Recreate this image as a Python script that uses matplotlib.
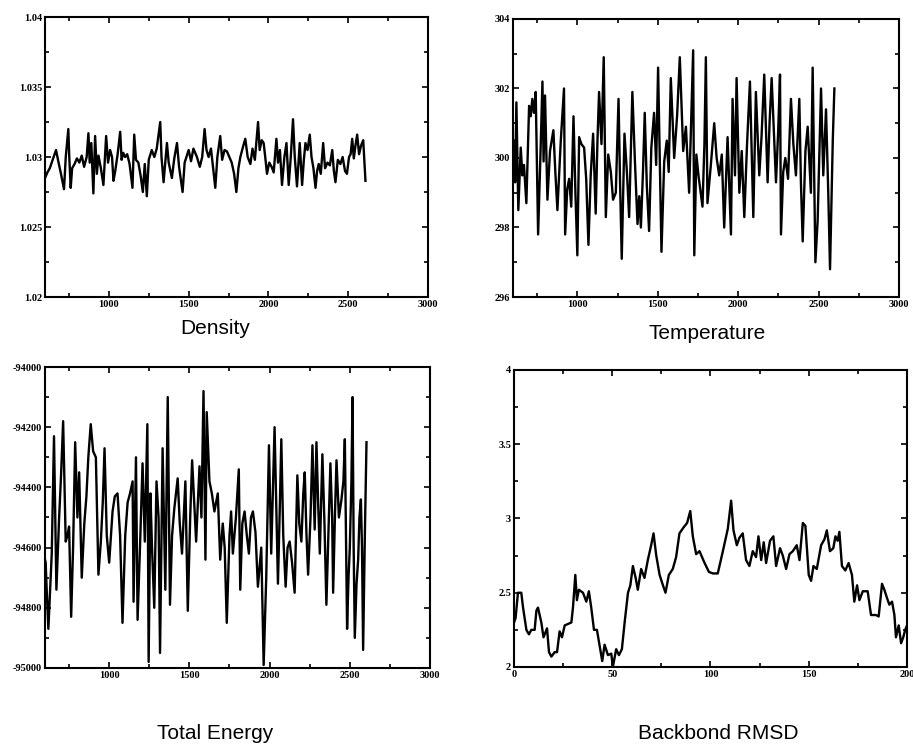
import matplotlib
matplotlib.use('Agg')
import matplotlib.pyplot as plt
from matplotlib.ticker import MultipleLocator, FuncFormatter

plt.rcParams['axes.unicode_minus'] = False

# =============================================================================
# data: (time, value) pairs
# =============================================================================
density = [(600, 1.0285), (615, 1.0289), (630, 1.0292), (645, 1.0297), (660, 1.0302),
           (669, 1.0305), (685, 1.0296), (700, 1.0288), (719, 1.0277), (730, 1.0300),
           (746, 1.0320), (752, 1.0300), (761, 1.0278), (770, 1.0292), (785, 1.0295),
           (800, 1.0299), (815, 1.0296), (830, 1.0301), (845, 1.0293), (861, 1.0300),
           (872, 1.0317), (880, 1.0296), (890, 1.0310), (903, 1.0274), (914, 1.0315),
           (925, 1.0288), (935, 1.0301), (950, 1.0292), (966, 1.0280), (983, 1.0315),
           (995, 1.0296), (1008, 1.0305), (1020, 1.0300), (1029, 1.0283), (1040, 1.0290),
           (1055, 1.0302), (1071, 1.0318), (1080, 1.0298), (1090, 1.0303), (1102, 1.0300),
           (1115, 1.0302), (1130, 1.0295), (1148, 1.0278), (1159, 1.0316), (1170, 1.0298),
           (1185, 1.0296), (1200, 1.0286), (1213, 1.0275), (1225, 1.0295), (1238, 1.0272),
           (1250, 1.0298), (1269, 1.0305), (1285, 1.0300), (1300, 1.0306), (1322, 1.0325),
           (1330, 1.0300), (1343, 1.0282), (1364, 1.0310), (1375, 1.0296), (1395, 1.0285),
           (1410, 1.0299), (1427, 1.0310), (1440, 1.0293), (1462, 1.0275), (1475, 1.0296),
           (1500, 1.0305), (1515, 1.0297), (1530, 1.0306), (1552, 1.0300), (1570, 1.0293),
           (1585, 1.0300), (1600, 1.0320), (1612, 1.0305), (1625, 1.0300), (1640, 1.0306),
           (1667, 1.0278), (1680, 1.0300), (1698, 1.0315), (1710, 1.0298), (1725, 1.0305),
           (1740, 1.0304), (1755, 1.0300), (1770, 1.0296), (1785, 1.0288), (1799, 1.0275),
           (1812, 1.0292), (1824, 1.0300), (1840, 1.0307), (1855, 1.0313), (1870, 1.0300),
           (1887, 1.0295), (1900, 1.0306), (1915, 1.0298), (1935, 1.0325), (1945, 1.0305),
           (1958, 1.0312), (1970, 1.0310), (1980, 1.0300), (1991, 1.0288), (2005, 1.0296),
           (2020, 1.0293), (2033, 1.0289), (2050, 1.0313), (2060, 1.0296), (2072, 1.0305),
           (2085, 1.0280), (2100, 1.0300), (2113, 1.0310), (2127, 1.0280), (2140, 1.0300),
           (2154, 1.0327), (2165, 1.0300), (2179, 1.0279), (2196, 1.0310), (2211, 1.0280),
           (2222, 1.0298), (2232, 1.0310), (2245, 1.0305), (2259, 1.0316), (2270, 1.0300),
           (2282, 1.0292), (2295, 1.0278), (2305, 1.0290), (2315, 1.0295), (2328, 1.0288),
           (2343, 1.0310), (2355, 1.0292), (2370, 1.0296), (2385, 1.0294), (2400, 1.0305),
           (2410, 1.0290), (2420, 1.0282), (2435, 1.0298), (2451, 1.0295), (2465, 1.0300),
           (2480, 1.0290), (2492, 1.0288), (2505, 1.0300), (2515, 1.0302), (2525, 1.0313),
           (2535, 1.0299), (2545, 1.0308), (2556, 1.0316), (2568, 1.0302), (2580, 1.0308),
           (2594, 1.0312), (2608, 1.0283)]

temperature = [(600, 299.6), (606, 300.5), (613, 299.3), (621, 301.6), (633, 298.5),
               (648, 300.3), (658, 299.5), (668, 299.8), (683, 298.7), (700, 301.5),
               (710, 301.2), (720, 301.7), (730, 301.3), (741, 301.9), (756, 297.8),
               (770, 300.0), (783, 302.2), (790, 299.9), (799, 301.8), (814, 298.8),
               (830, 300.2), (851, 300.8), (863, 299.6), (876, 298.5), (897, 300.5),
               (917, 302.0), (924, 297.8), (937, 299.1), (949, 299.4), (962, 298.6),
               (976, 301.2), (988, 299.0), (1000, 297.2), (1011, 300.6), (1025, 300.4),
               (1042, 300.3), (1055, 299.4), (1069, 297.5), (1083, 299.5), (1098, 300.7),
               (1114, 298.4), (1125, 300.5), (1135, 301.9), (1150, 300.4), (1164, 302.9),
               (1177, 298.3), (1192, 300.1), (1208, 299.6), (1222, 298.8), (1239, 299.0),
               (1256, 301.7), (1266, 299.2), (1276, 297.1), (1293, 300.7), (1308, 299.6),
               (1322, 298.3), (1342, 301.9), (1358, 299.9), (1374, 298.1), (1385, 298.9),
               (1395, 298.0), (1408, 299.6), (1419, 301.3), (1432, 299.2), (1446, 297.9),
               (1460, 300.3), (1477, 301.3), (1490, 299.8), (1502, 302.6), (1523, 297.3),
               (1540, 299.9), (1556, 300.5), (1568, 299.6), (1581, 302.3), (1602, 300.0),
               (1620, 301.2), (1637, 302.9), (1658, 300.2), (1675, 300.9), (1695, 299.0),
               (1720, 303.1), (1727, 297.2), (1740, 300.1), (1753, 299.5), (1778, 298.6),
               (1790, 300.4), (1799, 302.9), (1809, 298.7), (1830, 299.8), (1851, 301.0),
               (1866, 300.0), (1882, 299.5), (1898, 300.1), (1913, 298.0), (1934, 300.6),
               (1955, 297.8), (1965, 301.7), (1980, 299.5), (1990, 302.3), (2007, 299.0),
               (2022, 300.2), (2038, 298.3), (2055, 300.4), (2073, 302.2), (2094, 298.3),
               (2110, 301.9), (2131, 299.5), (2145, 300.6), (2162, 302.4), (2183, 299.3),
               (2195, 301.0), (2208, 302.3), (2235, 299.3), (2248, 300.7), (2260, 302.4),
               (2266, 297.8), (2280, 299.6), (2293, 300.0), (2310, 299.4), (2328, 301.7),
               (2343, 300.4), (2359, 299.5), (2380, 301.7), (2390, 299.3), (2401, 297.6),
               (2418, 300.2), (2432, 300.9), (2452, 299.0), (2463, 302.6), (2480, 297.0),
               (2494, 298.2), (2515, 302.0), (2529, 299.5), (2546, 301.4), (2560, 299.0),
               (2571, 296.8), (2588, 300.5), (2598, 302.0)]

total_energy = [(600, -94640), (604, -94650), (612, -94760), (621, -94870), (632, -94740),
                (642, -94620), (656, -94230), (663, -94460), (671, -94740), (688, -94500),
                (700, -94360), (713, -94180), (729, -94580), (740, -94560), (750, -94530),
                (763, -94830), (775, -94600), (788, -94250), (802, -94500), (813, -94350),
                (829, -94700), (845, -94520), (858, -94430), (870, -94300), (885, -94190),
                (900, -94280), (917, -94300), (933, -94690), (948, -94580), (960, -94450),
                (971, -94270), (985, -94560), (1000, -94650), (1021, -94480), (1035, -94430),
                (1052, -94420), (1068, -94560), (1083, -94850), (1100, -94560), (1115, -94450),
                (1130, -94420), (1146, -94380), (1152, -94780), (1167, -94300), (1177, -94840),
                (1192, -94600), (1208, -94320), (1222, -94580), (1238, -94190), (1246, -94980),
                (1257, -94420), (1267, -94600), (1281, -94800), (1295, -94380), (1308, -94500),
                (1317, -94950), (1333, -94270), (1350, -94740), (1365, -94100), (1379, -94790),
                (1392, -94560), (1406, -94470), (1427, -94370), (1440, -94520), (1454, -94620),
                (1475, -94380), (1490, -94810), (1505, -94500), (1517, -94310), (1530, -94450),
                (1542, -94580), (1563, -94330), (1575, -94500), (1588, -94080), (1600, -94640),
                (1608, -94150), (1625, -94380), (1640, -94420), (1656, -94480), (1677, -94420),
                (1692, -94640), (1708, -94520), (1720, -94600), (1733, -94850), (1750, -94560),
                (1760, -94480), (1771, -94620), (1790, -94500), (1808, -94340), (1817, -94740),
                (1830, -94520), (1844, -94480), (1858, -94560), (1871, -94620), (1884, -94500),
                (1896, -94480), (1912, -94550), (1927, -94730), (1948, -94600), (1963, -94990),
                (1979, -94700), (1996, -94260), (2010, -94620), (2031, -94200), (2052, -94720),
                (2063, -94480), (2073, -94240), (2085, -94560), (2100, -94730), (2112, -94600),
                (2125, -94580), (2140, -94650), (2156, -94750), (2173, -94360), (2185, -94520),
                (2198, -94580), (2210, -94420), (2219, -94350), (2230, -94560), (2240, -94690),
                (2255, -94500), (2267, -94260), (2281, -94540), (2292, -94250), (2303, -94460),
                (2313, -94620), (2329, -94290), (2342, -94520), (2354, -94790), (2367, -94550),
                (2379, -94320), (2390, -94500), (2396, -94750), (2408, -94480), (2417, -94310),
                (2432, -94500), (2448, -94440), (2460, -94380), (2469, -94240), (2476, -94560),
                (2483, -94870), (2492, -94700), (2500, -94600), (2510, -94380), (2517, -94100),
                (2524, -94600), (2531, -94900), (2542, -94720), (2552, -94640), (2560, -94500),
                (2569, -94440), (2576, -94600), (2583, -94940), (2594, -94550), (2604, -94250)]

rmsd = [(0, 2.30), (0.8, 2.33), (2, 2.50), (3.7, 2.50), (4.6, 2.40), (6.3, 2.25),
        (7.6, 2.22), (8.8, 2.25), (10.5, 2.25), (11.4, 2.38), (12.2, 2.40), (13.9, 2.30),
        (15, 2.20), (16.8, 2.26), (17.8, 2.10), (19, 2.07), (20.7, 2.10), (21.9, 2.10),
        (23.2, 2.24), (24.4, 2.20), (25.8, 2.28), (27.5, 2.29), (29.2, 2.30), (30, 2.40),
        (31.2, 2.62), (32, 2.45), (33, 2.52), (35.1, 2.50), (36.8, 2.44), (38.1, 2.51),
        (39.3, 2.40), (40.7, 2.25), (42.2, 2.25), (43.6, 2.14), (44.9, 2.04), (46.1, 2.15),
        (47.8, 2.08), (49.5, 2.09), (50.3, 2.00), (52, 2.12), (53.4, 2.08), (54.9, 2.12),
        (56.3, 2.30), (58, 2.50), (59.2, 2.55), (60.5, 2.68), (61.9, 2.60), (63, 2.52),
        (64.7, 2.66), (66.4, 2.60), (68.1, 2.72), (69.8, 2.82), (71, 2.90), (72.4, 2.75),
        (74.1, 2.62), (75.8, 2.55), (77.1, 2.50), (78.8, 2.62), (80.8, 2.66), (82.5, 2.74),
        (84.2, 2.90), (86.3, 2.94), (88.1, 2.97), (89.7, 3.05), (91, 2.88), (92.7, 2.76),
        (94.4, 2.78), (97, 2.70), (99.2, 2.64), (101.2, 2.63), (103.7, 2.63), (106.3, 2.78),
        (108.8, 2.93), (110.5, 3.12), (111.7, 2.92), (113.4, 2.82), (114.7, 2.87), (116.4, 2.90),
        (118.1, 2.72), (119.8, 2.68), (121.5, 2.78), (123.2, 2.74), (124.4, 2.88), (125.8, 2.72),
        (127.1, 2.84), (128.3, 2.70), (130.3, 2.85), (132, 2.88), (133.4, 2.68), (135.4, 2.80),
        (136.8, 2.75), (138.5, 2.66), (140.2, 2.76), (141.9, 2.78), (143.9, 2.82), (145.3, 2.72),
        (147, 2.97), (148.3, 2.95), (150, 2.62), (151.2, 2.58), (152.4, 2.68), (154.1, 2.66),
        (156.3, 2.82), (158, 2.86), (159.2, 2.92), (160.8, 2.78), (162.5, 2.80), (163.6, 2.88),
        (164.7, 2.85), (165.6, 2.91), (166.9, 2.68), (168.6, 2.65), (170.3, 2.70), (172, 2.62),
        (173.2, 2.44), (174.6, 2.55), (175.8, 2.45), (177.5, 2.51), (180, 2.51), (181.7, 2.35),
        (184.2, 2.35), (185.6, 2.34), (187.3, 2.56), (188.5, 2.52), (189.7, 2.47), (191, 2.42),
        (192.4, 2.44), (193.6, 2.35), (194.4, 2.20), (195.8, 2.28), (197, 2.16), (198.1, 2.20),
        (199.1, 2.25), (200, 2.28)]

titles = ['Density', 'Temperature', 'Total Energy', 'Backbond RMSD']


def fmt(v, pos):
    return '%g' % v


def style(ax, xlim, ylim, xmaj, xmin, ymaj, ymin):
    ax.set_xlim(*xlim)
    ax.set_ylim(*ylim)
    ax.xaxis.set_major_locator(MultipleLocator(xmaj))
    ax.xaxis.set_minor_locator(MultipleLocator(xmin))
    ax.yaxis.set_major_locator(MultipleLocator(ymaj))
    ax.yaxis.set_minor_locator(MultipleLocator(ymin))
    ax.xaxis.set_major_formatter(FuncFormatter(fmt))
    ax.yaxis.set_major_formatter(FuncFormatter(fmt))
    ax.tick_params(which='both', direction='in', top=True, right=True,
                   width=1.2, pad=2)
    ax.tick_params(which='major', length=4.5)
    ax.tick_params(which='minor', length=3)
    for lab in ax.get_xticklabels() + ax.get_yticklabels():
        lab.set_family('Liberation Serif')
        lab.set_fontsize(7.5)
        lab.set_fontweight('bold')
    for s in ax.spines.values():
        s.set_linewidth(1.5)


fig = plt.figure(figsize=(9.13, 7.47), dpi=100)

ax1 = fig.add_axes([0.0493, 0.6024, 0.4195, 0.3748])
ax2 = fig.add_axes([0.5619, 0.6024, 0.4228, 0.3722])
ax3 = fig.add_axes([0.0493, 0.1058, 0.4217, 0.4029])
ax4 = fig.add_axes([0.5630, 0.1071, 0.4304, 0.3976])

for ax, series in zip([ax1, ax2, ax3, ax4], [density, temperature, total_energy, rmsd]):
    t, v = zip(*series)
    ax.plot(t, v, color='black', lw=1.7)

style(ax1, (600, 3000), (1.02, 1.04), 500, 250, 0.005, 0.0025)
style(ax2, (600, 3000), (296, 304), 500, 250, 2, 1)
style(ax3, (600, 3000), (-95000, -94000), 500, 250, 200, 100)
style(ax4, (0, 200), (2, 4), 50, 25, 0.5, 0.25)

# panel captions
pos = [(0.2355, 0.5609), (0.7744, 0.5542), (0.2355, 0.0187), (0.7864, 0.0187)]
for (x, y), txt in zip(pos, titles):
    fig.text(x, y, txt, ha='center', va='center', family='Liberation Sans',
             fontsize=15)

fig.savefig('out.png', dpi=100)
